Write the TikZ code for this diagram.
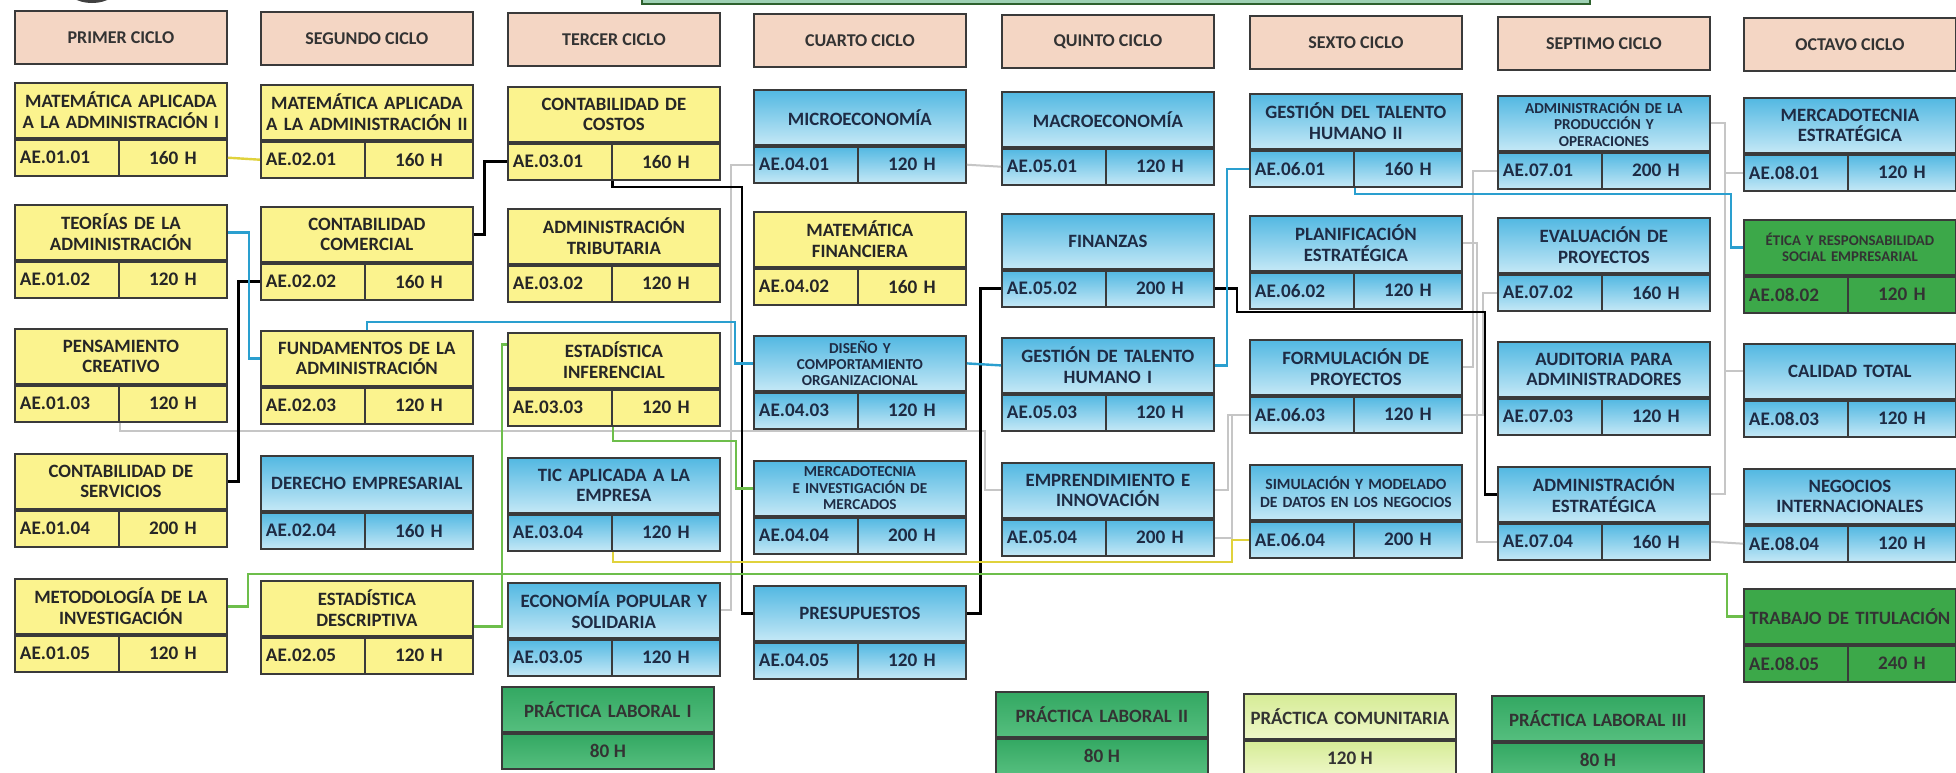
\documentclass[tikz,border=0pt]{standalone}
\usepackage{fontspec}
\setmainfont{Carlito}
\usetikzlibrary{positioning}

\definecolor{cabecera}{HTML}{F4D6C4}
\definecolor{amarillo}{HTML}{FBF38E}
\definecolor{azularriba}{HTML}{52B8E2}
\definecolor{azulabajo}{HTML}{C4E8F6}
\definecolor{verdeoscuro}{HTML}{3CA849}
\definecolor{verdearriba}{HTML}{33A862}
\definecolor{verdeabajo}{HTML}{55BE7E}
\definecolor{limaarriba}{HTML}{D6EC96}
\definecolor{limaabajo}{HTML}{EEF7C8}
\definecolor{borde}{HTML}{3A3A3A}
\definecolor{tinta}{HTML}{1E2B44}
\definecolor{lineagris}{HTML}{C6C6C6}
\definecolor{lineaazul}{HTML}{2A9FCF}
\definecolor{lineaamarilla}{HTML}{E0D23C}
\definecolor{lineaverde}{HTML}{6DBE4B}
\definecolor{marco}{HTML}{9ED1B4}

% curso: [opciones del titulo]{nombre}{x}{y}{estilo}{titulo}{codigo}{horas}
\newcommand{\curso}[8][]{%
  \node[titulo, #5, anchor=north west, #1] (#2) at (#3,#4) {#6};
  \node[celda, #5, anchor=north west, minimum width=52pt, text width=47pt, align=left] (#2-c) at (#2.south west) {#7};
  \node[celda, #5, anchor=north east, minimum width=54pt, text width=50pt, align=center] (#2-h) at (#2.south east) {#8};
}
% practica: {nombre}{x}{y}{estilo}{titulo}{horas}
\newcommand{\practica}[6]{%
  \node[titulo, #4, anchor=north west, minimum height=22.5pt] (#1) at (#2,#3) {#5};
  \node[celda, #4, anchor=north, minimum width=106pt, minimum height=17.5pt] (#1-h) at (#1.south) {#6};
}

\begin{document}
\begin{tikzpicture}[x=0.5pt, y=-0.5pt,
    font=\bfseries\fontsize{9.4}{10.4}\selectfont,
    ciclo/.style={rectangle, draw=borde, line width=0.9pt, fill=cabecera, minimum width=106pt, minimum height=26.5pt, anchor=north west, text=black!80, font=\bfseries\fontsize{9}{10}\selectfont},
    titulo/.style={rectangle, draw=borde, line width=0.9pt, minimum width=106pt, minimum height=27.5pt, text width=105pt, align=center, inner sep=0.3pt},
    celda/.style={rectangle, draw=borde, line width=0.9pt, minimum height=18pt, inner sep=1pt, font=\bfseries\fontsize{9.6}{11}\selectfont},
    amarilla/.style={fill=amarillo, text=black!85},
    azul/.style={top color=azularriba, bottom color=azulabajo, text=tinta},
    verde/.style={fill=verdeoscuro, text=black!80},
    laboral/.style={top color=verdearriba, bottom color=verdeabajo, text=black!80},
    comunitaria/.style={top color=limaarriba, bottom color=limaabajo, text=black!80},
    chica/.style={font=\bfseries\fontsize{7.6}{8.2}\selectfont},
    gris/.style={draw=lineagris, line width=1pt},
    negra/.style={draw=black, line width=1.4pt},
    celeste/.style={draw=lineaazul, line width=1.2pt},
    amarillenta/.style={draw=lineaamarilla, line width=1.2pt},
    verdosa/.style={draw=lineaverde, line width=1.2pt}]

\useasboundingbox (0,0) rectangle (1956,772);
\fill[white] (0,0) rectangle (1956,772);

% restos de arriba
\fill[black!75] (92,-14) ellipse [x radius=27, y radius=17];
\draw[draw=borde!80!green, line width=1pt, fill=marco] (642,-20) rectangle (1590,4);

% ciclos
\node[ciclo] (ciclo1) at (14,10) {PRIMER CICLO};
\node[ciclo] (ciclo2) at (260,11) {SEGUNDO CICLO};
\node[ciclo] (ciclo3) at (507,12) {TERCER CICLO};
\node[ciclo] (ciclo4) at (753,13) {CUARTO CICLO};
\node[ciclo] (ciclo5) at (1001,14) {QUINTO CICLO};
\node[ciclo] (ciclo6) at (1249,15) {SEXTO CICLO};
\node[ciclo] (ciclo7) at (1497,16) {SEPTIMO CICLO};
\node[ciclo] (ciclo8) at (1743,17) {OCTAVO CICLO};

% primer ciclo
\curso{matI}{14}{82}{amarilla}{MATEMÁTICA APLICADA\\A LA ADMINISTRACIÓN I}{AE.01.01}{160 H}
\curso{teorias}{14}{204}{amarilla}{TEORÍAS DE LA\\ADMINISTRACIÓN}{AE.01.02}{120 H}
\curso{pensam}{14}{328}{amarilla}{PENSAMIENTO\\CREATIVO}{AE.01.03}{120 H}
\curso{contserv}{14}{453}{amarilla}{CONTABILIDAD DE\\SERVICIOS}{AE.01.04}{200 H}
\curso{metodo}{14}{578}{amarilla}{METODOLOGÍA DE LA\\INVESTIGACIÓN}{AE.01.05}{120 H}

% segundo ciclo
\curso{matII}{260}{84}{amarilla}{MATEMÁTICA APLICADA\\A LA ADMINISTRACIÓN II}{AE.02.01}{160 H}
\curso{contcom}{260}{206}{amarilla}{CONTABILIDAD\\COMERCIAL}{AE.02.02}{160 H}
\curso{fundam}{260}{330}{amarilla}{FUNDAMENTOS DE LA\\ADMINISTRACIÓN}{AE.02.03}{120 H}
\curso{derecho}{260}{455}{azul}{DERECHO EMPRESARIAL}{AE.02.04}{160 H}
\curso{estdesc}{260}{580}{amarilla}{ESTADÍSTICA\\DESCRIPTIVA}{AE.02.05}{120 H}

% tercer ciclo
\curso{contcost}{507}{86}{amarilla}{CONTABILIDAD DE\\COSTOS}{AE.03.01}{160 H}
\curso{admtrib}{507}{208}{amarilla}{ADMINISTRACIÓN\\TRIBUTARIA}{AE.03.02}{120 H}
\curso{estinf}{507}{332}{amarilla}{ESTADÍSTICA\\INFERENCIAL}{AE.03.03}{120 H}
\curso{tic}{507}{457}{azul}{TIC APLICADA A LA\\EMPRESA}{AE.03.04}{120 H}
\curso{ecopop}{507}{582}{azul}{ECONOMÍA POPULAR Y\\SOLIDARIA}{AE.03.05}{120 H}
\practica{pracI}{501}{686}{laboral}{PRÁCTICA LABORAL I}{80 H}

% cuarto ciclo
\curso{micro}{753}{89}{azul}{MICROECONOMÍA}{AE.04.01}{120 H}
\curso{matfin}{753}{211}{amarilla}{MATEMÁTICA\\FINANCIERA}{AE.04.02}{160 H}
\curso[chica]{disenio}{753}{335}{azul}{DISEÑO Y\\COMPORTAMIENTO\\ORGANIZACIONAL}{AE.04.03}{120 H}
\curso[chica]{mercinv}{753}{460}{azul}{MERCADOTECNIA\\E INVESTIGACIÓN DE\\MERCADOS}{AE.04.04}{200 H}
\curso{presup}{753}{585}{azul}{PRESUPUESTOS}{AE.04.05}{120 H}

% quinto ciclo
\curso{macro}{1001}{91}{azul}{MACROECONOMÍA}{AE.05.01}{120 H}
\curso{finanzas}{1001}{213}{azul}{FINANZAS}{AE.05.02}{200 H}
\curso{gthI}{1001}{337}{azul}{GESTIÓN DE TALENTO\\HUMANO I}{AE.05.03}{120 H}
\curso{empren}{1001}{462}{azul}{EMPRENDIMIENTO E\\INNOVACIÓN}{AE.05.04}{200 H}
\practica{pracII}{995}{691}{laboral}{PRÁCTICA LABORAL II}{80 H}

% sexto ciclo
\curso{gthII}{1249}{93}{azul}{GESTIÓN DEL TALENTO\\HUMANO II}{AE.06.01}{160 H}
\curso{planif}{1249}{215}{azul}{PLANIFICACIÓN\\ESTRATÉGICA}{AE.06.02}{120 H}
\curso{formul}{1249}{339}{azul}{FORMULACIÓN DE\\PROYECTOS}{AE.06.03}{120 H}
\curso[font=\bfseries\fontsize{7.8}{9}\selectfont]{simul}{1249}{464}{azul}{SIMULACIÓN Y MODELADO\\DE DATOS EN LOS NEGOCIOS}{AE.06.04}{200 H}
\practica{praccom}{1243}{693}{comunitaria}{PRÁCTICA COMUNITARIA}{120 H}

% septimo ciclo
\curso[chica]{admprod}{1497}{95}{azul}{ADMINISTRACIÓN DE LA\\PRODUCCIÓN Y\\OPERACIONES}{AE.07.01}{200 H}
\curso{evalproy}{1497}{217}{azul}{EVALUACIÓN DE\\PROYECTOS}{AE.07.02}{160 H}
\curso{auditoria}{1497}{341}{azul}{AUDITORIA PARA\\ADMINISTRADORES}{AE.07.03}{120 H}
\curso{admestr}{1497}{466}{azul}{ADMINISTRACIÓN\\ESTRATÉGICA}{AE.07.04}{160 H}
\practica{pracIII}{1491}{695}{laboral}{PRÁCTICA LABORAL III}{80 H}

% octavo ciclo
\curso{mercestr}{1743}{97}{azul}{MERCADOTECNIA\\ESTRATÉGICA}{AE.08.01}{120 H}
\curso[font=\bfseries\fontsize{7.4}{8.4}\selectfont]{etica}{1743}{219}{verde}{ÉTICA Y RESPONSABILIDAD\\SOCIAL EMPRESARIAL}{AE.08.02}{120 H}
\curso{calidad}{1743}{343}{azul}{CALIDAD TOTAL}{AE.08.03}{120 H}
\curso{negocios}{1743}{468}{azul}{NEGOCIOS\\INTERNACIONALES}{AE.08.04}{120 H}
\curso{titulacion}{1743}{588}{verde}{TRABAJO DE TITULACIÓN}{AE.08.05}{240 H}

% lineas grises
\draw[gris] (pensam-c.south east) |- (985,431) |- (empren.west);
\draw[gris] (ecopop.east) -- ++(10,0) |- (micro-c.west);
\draw[gris] (micro-h.east) -- (macro-c.west);
\draw[gris] (empren.east) -- ++(13,0) |- (formul-c.west);
\draw[gris] (empren-h.east) -- ++(17,0) |- (formul-c.west);
\draw[gris] (planif.east) -- ++(10,0) |- (admprod-c.west);
\draw[gris] (formul.east) -- ++(10,0) |- (admprod-c.west);
\draw[gris] (planif.east) -- ++(14,0) |- (admestr-c.west);
\draw[gris] (formul-h.east) -- ++(20,0) |- (evalproy-c.west);
\draw[gris] (admprod.east) -- ++(14,0) |- (mercestr-c.west);
\draw[gris] (admprod.east) -- ++(14,0) |- (calidad.west);
\draw[gris] (admestr.east) -- ++(14,0) |- (calidad.west);
\draw[gris] (admestr-h.east) -- (negocios-c.west);

% lineas negras
\draw[negra] (contcom.east) -- ++(11,0) |- (contcost-c.west);
\draw[negra] (contserv.east) -- ++(11,0) |- (contcom-c.west);
\draw[negra] (contcost-c.south east) |- (742,187) |- (presup.west);
\draw[negra] (presup.east) -- ++(14,0) |- (finanzas-c.west);
\draw[negra] (finanzas-h.east) -| (1237,312) -- (1485,312) |- (admestr.west);

% lineas celestes
\draw[celeste] (teorias.east) -- ++(21,0) |- (fundam.west);
\draw[celeste] (fundam.north) |- (735,322) |- (disenio.west);
\draw[celeste] (disenio.east) -- (gthI.west);
\draw[celeste] (gthI.east) -- ++(12,0) |- (gthII-c.west);
\draw[celeste] (gthII-c.south east) |- (1731,194) |- (etica.west);

% lineas amarillas
\draw[amarillenta] (matI-h.east) -- (matII-c.west);
\draw[amarillenta] (tic-c.south east) |- (1232,562) |- (simul-c.west);

% lineas verdes
\draw[verdosa] (metodo.east) -- ++(20,0) |- (1727,574) |- (titulacion.west);
\draw[verdosa] ([yshift=-9pt]estdesc.east) -- ++(28,0) |- ([yshift=8pt]estinf.west);
\draw[verdosa] (estinf-c.south east) |- (736,441) |- (mercinv.west);
\end{tikzpicture}
\end{document}
